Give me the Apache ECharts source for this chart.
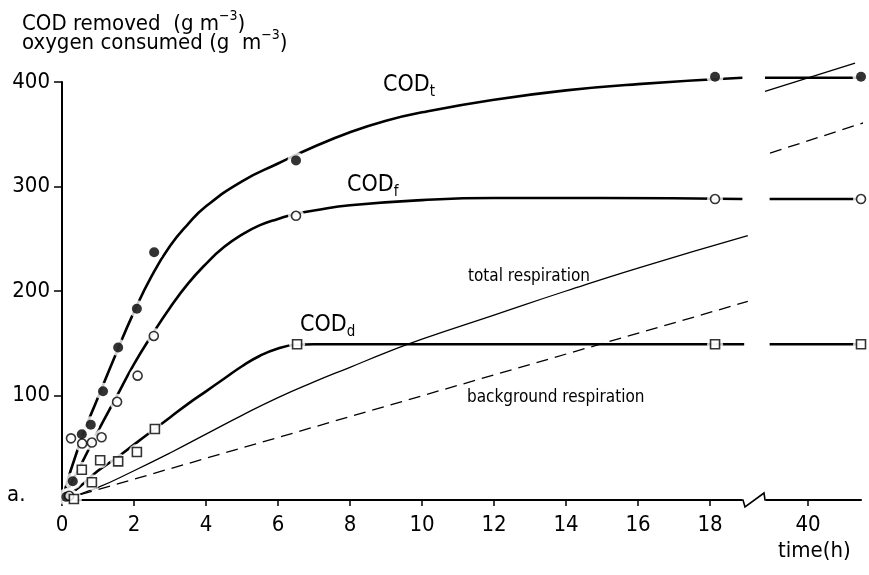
<!DOCTYPE html>
<html>
<head>
<meta charset="utf-8">
<script src="https://cdn.jsdelivr.net/npm/echarts@6/dist/echarts.min.js"></script>
<style>
  html, body { margin: 0; padding: 0; background: #fff; }
  #chart { width: 869px; height: 575px; }
</style>
</head>
<body>
<div id="chart"></div>
<script>
// ---- measured points (time in h, value in g m^-3) ----
const codTTime  = [0.12, 0.3, 0.55, 0.8, 1.14, 1.56, 2.08, 2.56, 6.5, 18.14];
const codTValue = [3, 18, 63, 72, 104, 146, 183, 237, 325, 405];
const codFTime  = [0.2, 0.25, 0.56, 0.83, 1.1, 1.53, 2.1, 2.55, 6.5, 18.14];
const codFValue = [4, 59, 54, 55, 60, 94, 119, 157, 272, 288];
const codDTime  = [0.33, 0.55, 0.83, 1.06, 1.56, 2.08, 2.58, 6.53, 18.14];
const codDValue = [1, 29, 17, 38, 37, 46, 68, 149, 149];

// final measurement after the axis break
const lateTime = [44];
const codTLate = [405];
const codFLate = [288];
const codDLate = [149];

// ---- fitted curves ----
const codTCurveTime  = [0, 0.5, 1, 1.5, 2, 2.5, 3, 3.5, 4, 5, 6, 7, 8, 9, 10, 12, 14, 16, 18.9];
const codTCurveValue = [0, 55, 98, 140, 180, 215, 243, 264, 281, 305, 322, 338, 352, 363, 371, 383, 392, 398, 404];
const codFCurveTime  = [0, 0.5, 1, 1.5, 2, 2.5, 3, 3.5, 4, 4.5, 5, 5.5, 6, 6.5, 7, 8, 10, 12, 15, 18.9];
const codFCurveValue = [0, 32, 66, 98, 130, 158, 184, 207, 226, 242, 254, 263, 269, 274, 277, 282, 287, 289, 289, 288];
const codDCurveTime  = [0, 0.5, 1, 1.5, 2, 2.5, 3, 3.5, 4, 4.5, 5, 5.5, 6, 6.5, 7, 18.95];
const codDCurveValue = [0, 13, 28, 40, 53, 66, 79, 92, 104, 116, 128, 138, 145, 148.5, 149, 149];
const totalRespTime  = [0, 1, 2, 3, 4, 5, 6, 7, 8, 9, 10, 12, 14, 16, 19.05];
const totalRespValue = [0, 12, 28, 45, 63, 81, 98, 113, 127, 141, 154, 177, 200, 222, 253];
const bgRespTime  = [0, 19.05];
const bgRespValue = [0, 190];

// curve pieces after the break
const codTLateLineTime = [36.75, 44];
const codTLateLineValue = [404, 404];
const codFLateLineTime = [37.1, 44];
const codFLateLineValue = [288, 288];
const codDLateLineTime = [37.1, 44];
const codDLateLineValue = [149, 149];
const totalRespLateTime = [36.75, 43.55];
const totalRespLateValue = [391, 418];
const bgRespLateTime = [37.13, 44.45];
const bgRespLateValue = [332, 362];

// ---- axis ticks ----
const xTicksMain = [0, 2, 4, 6, 8, 10, 12, 14, 16, 18];
const xTicksLate = [40];
const yTicks = [100, 200, 300, 400];

const FONT = "'Liberation Sans Narrow', 'DejaVu Sans Condensed', Roboto, sans-serif";
const INK = '#000';

const pair = (xs, ys) => xs.map((x, i) => [x, ys[i]]);

function curve(xs, ys, g, width, dashed, smooth) {
  return {
    type: 'line', xAxisIndex: g, yAxisIndex: g,
    data: pair(xs, ys), smooth: smooth,
    showSymbol: false, symbol: 'none', clip: false, z: 2,
    lineStyle: { color: INK, width: width, type: dashed ? [12, 7] : 'solid' },
    silent: true
  };
}
function halo(xs, ys, g, size) {
  return {
    type: 'scatter', xAxisIndex: g, yAxisIndex: g, data: pair(xs, ys),
    symbol: 'circle', symbolSize: size, clip: false, z: 3, silent: true,
    itemStyle: { color: '#fff', borderWidth: 0 }
  };
}
function marks(xs, ys, g, symbol, size, filled) {
  return {
    type: 'scatter', xAxisIndex: g, yAxisIndex: g, data: pair(xs, ys),
    symbol: symbol, symbolSize: size, clip: false, z: 4, silent: true,
    itemStyle: filled ? { color: INK, borderWidth: 0 }
                      : { color: '#fff', borderColor: INK, borderWidth: 1.6 }
  };
}

const axisText = { color: INK, fontFamily: FONT, fontSize: 22 };

const chart = echarts.init(document.getElementById('chart'), null, { renderer: 'canvas' });

chart.setOption({
  animation: false,
  backgroundColor: '#fff',
  grid: [
    { left: 62, right: 123, top: 82, bottom: 75 },
    { left: 765, right: 8, top: 82, bottom: 75 }
  ],
  xAxis: [
    {
      gridIndex: 0, type: 'value', min: 0, max: 19, interval: 2,
      splitLine: { show: false },
      axisLine: { show: true, onZero: false, lineStyle: { color: INK, width: 2 } },
      axisTick: { show: true, inside: false, length: 6, customValues: xTicksMain, lineStyle: { color: INK, width: 1.5 } },
      axisLabel: Object.assign({ margin: 14, customValues: xTicksMain }, axisText)
    },
    {
      gridIndex: 1, type: 'value', min: 36.75, max: 44,
      splitLine: { show: false },
      axisLine: { show: true, onZero: false, lineStyle: { color: INK, width: 2 } },
      axisTick: { show: true, inside: false, length: 6, customValues: xTicksLate, lineStyle: { color: INK, width: 1.5 } },
      axisLabel: Object.assign({ margin: 14, customValues: xTicksLate }, axisText)
    }
  ],
  yAxis: [
    {
      gridIndex: 0, type: 'value', min: 0, max: 400, interval: 100,
      splitLine: { show: false },
      axisLine: { show: true, lineStyle: { color: INK, width: 2 } },
      axisTick: { show: true, inside: false, length: 8, customValues: yTicks, lineStyle: { color: INK, width: 1.5 } },
      axisLabel: Object.assign({ margin: 12, customValues: yTicks }, axisText)
    },
    {
      gridIndex: 1, type: 'value', min: 0, max: 400, show: false
    }
  ],
  series: [
    // fitted curves, left part
    curve(codTCurveTime, codTCurveValue, 0, 2.6, false, 0.5),
    curve(codFCurveTime, codFCurveValue, 0, 2.6, false, 0.5),
    curve(codDCurveTime, codDCurveValue, 0, 2.6, false, 0.5),
    curve(totalRespTime, totalRespValue, 0, 1.3, false, 0.5),
    curve(bgRespTime, bgRespValue, 0, 1.3, true, false),
    // after the break
    curve(codTLateLineTime, codTLateLineValue, 1, 2.6, false, false),
    curve(codFLateLineTime, codFLateLineValue, 1, 2.6, false, false),
    curve(codDLateLineTime, codDLateLineValue, 1, 2.6, false, false),
    curve(totalRespLateTime, totalRespLateValue, 1, 1.3, false, false),
    curve(bgRespLateTime, bgRespLateValue, 1, 1.3, true, false),
    // white gaps around the measured points
    halo(codTTime, codTValue, 0, 17),
    halo(codFTime, codFValue, 0, 16),
    halo(codDTime, codDValue, 0, 16),
    halo(lateTime, codTLate, 1, 17),
    halo(lateTime, codFLate, 1, 16),
    halo(lateTime, codDLate, 1, 16),
    // measured points
    marks(codTTime, codTValue, 0, 'circle', 10, true),
    marks(codFTime, codFValue, 0, 'circle', 9, false),
    marks(codDTime, codDValue, 0, 'rect', 9, false),
    marks(lateTime, codTLate, 1, 'circle', 10, true),
    marks(lateTime, codFLate, 1, 'circle', 9, false),
    marks(lateTime, codDLate, 1, 'rect', 9, false)
  ]
});

// ---- text and the axis-break mark ----
const big = { fontFamily: FONT, fontSize: 22, lineHeight: 30, color: INK };
const sup = { fontFamily: FONT, fontSize: 14, lineHeight: 14, verticalAlign: 'top', color: INK };
const lab = { fontFamily: FONT, fontSize: 23, lineHeight: 30, color: INK };
const sub = { fontFamily: FONT, fontSize: 15, lineHeight: 14, verticalAlign: 'bottom', color: INK };
const small = { fontFamily: FONT, fontSize: 17, color: INK };

function txt(x, y, text, rich, extra) {
  return {
    type: 'text', x: x, y: y, silent: true,
    style: Object.assign({ text: text, rich: rich, align: 'left', verticalAlign: 'top', fill: INK }, extra || {})
  };
}

const brk = chart.convertToPixel({ xAxisIndex: 0, yAxisIndex: 0 }, [19, 0]);

chart.setOption({
  graphic: [
    txt(22, 9, '{a|COD removed  (g m}{s|−3}{a|)}', { a: big, s: sup }),
    txt(22, 28, '{a|oxygen consumed (g  m}{s|−3}{a|)}', { a: big, s: sup }),
    txt(383, 70, '{a|COD}{s|t}', { a: lab, s: sub }),
    txt(347, 170, '{a|COD}{s|f}', { a: lab, s: sub }),
    txt(300, 310, '{a|COD}{s|d}', { a: lab, s: sub }),
    txt(468, 268, 'total respiration', null, small),
    txt(467, 389, 'background respiration', null, small),
    txt(7, 484, 'a.', null, { fontFamily: FONT, fontSize: 22 }),
    txt(778, 540, 'time(h)', null, { fontFamily: FONT, fontSize: 22 }),
    {
      type: 'rect', silent: true,
      shape: { x: brk[0] - 4, y: brk[1] - 3, width: 24, height: 6 },
      style: { fill: '#fff' }, z: 10
    },
    {
      type: 'polyline', silent: true, z: 11,
      shape: { points: [[brk[0] - 6, brk[1]], [brk[0] - 3, brk[1]], [brk[0] - 1, brk[1] + 7], [brk[0] + 18, brk[1] - 7], [brk[0] + 19, brk[1]], [brk[0] + 22, brk[1]]] },
      style: { stroke: INK, lineWidth: 1.6, fill: null }
    }
  ]
});
</script>
</body>
</html>
